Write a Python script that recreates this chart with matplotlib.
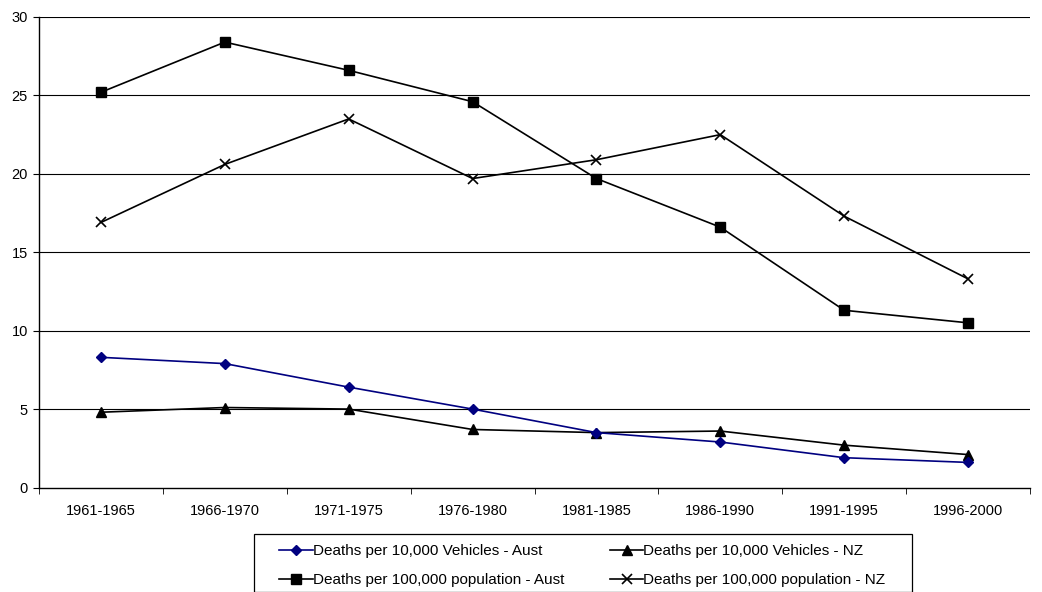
import matplotlib
matplotlib.use("Agg")
import matplotlib.pyplot as plt
from matplotlib.patches import Rectangle
import numpy as np

categories = ["1961-1965", "1966-1970", "1971-1975", "1976-1980",
              "1981-1985", "1986-1990", "1991-1995", "1996-2000"]
veh_aust = [8.3, 7.9, 6.4, 5.0, 3.5, 2.9, 1.9, 1.6]
veh_nz = [4.8, 5.1, 5.0, 3.7, 3.5, 3.6, 2.7, 2.1]
pop_aust = [25.2, 28.4, 26.6, 24.6, 19.7, 16.6, 11.3, 10.5]
pop_nz = [16.9, 20.6, 23.5, 19.7, 20.9, 22.5, 17.3, 13.3]
yticks = [0, 5, 10, 15, 20, 25, 30]

plt.rcParams['font.family'] = ['Liberation Sans', 'DejaVu Sans']

W, H = 1042, 592
fig = plt.figure(figsize=(W / 100, H / 100), dpi=100)
ax = fig.add_axes([39/W, 1 - 487.5/H, (1030 - 39)/W, (487.5 - 17)/H])

x = np.arange(len(categories))
h1, = ax.plot(x, veh_aust, color='#000080', marker='D', markersize=5.5, lw=1.2,
              label='Deaths per 10,000 Vehicles - Aust', zorder=5)
h2, = ax.plot(x, veh_nz, color='black', marker='^', markersize=7.5, lw=1.2,
              label='Deaths per 10,000 Vehicles - NZ', zorder=4)
h3, = ax.plot(x, pop_aust, color='black', marker='s', markersize=7, lw=1.2,
              label='Deaths per 100,000 population - Aust', zorder=4)
h4, = ax.plot(x, pop_nz, color='black', marker='x', markersize=7.5, mew=1.2, lw=1.2,
              label='Deaths per 100,000 population - NZ', zorder=4)

ax.set_xlim(-0.5, len(categories) - 0.5)
ax.set_ylim(0, 30)
ax.set_yticks(yticks)
ax.set_xticks(x)
ax.set_xticklabels(categories, fontsize=10.5)
ax.set_xticks(np.arange(len(categories) + 1) - 0.5, minor=True)
ax.tick_params(axis='x', which='major', length=0, pad=12)
ax.tick_params(axis='x', which='minor', length=4, color='black')
ax.tick_params(axis='y', length=4, labelsize=10.5, pad=4)
for yv in yticks[1:]:
    ax.axhline(yv, color='black', lw=0.8, zorder=1)
for s in ['top', 'right']:
    ax.spines[s].set_visible(False)
ax.spines['left'].set_linewidth(1.0)
ax.spines['bottom'].set_linewidth(1.0)

# legend frame
fig.patches.append(Rectangle((254/W, 0), (912 - 254)/W, 1 - 534/H,
                             transform=fig.transFigure, fill=False,
                             edgecolor='black', lw=0.9, zorder=0))
leg = fig.legend([h1, h3, h2, h4],
                 [h1.get_label(), h3.get_label(), h2.get_label(), h4.get_label()],
                 loc='upper left', bbox_to_anchor=(279/W, 1 - 544/H),
                 ncol=2, fontsize=11, frameon=False, borderpad=0,
                 handlelength=2.2, handletextpad=0.0,
                 columnspacing=3.0, labelspacing=0.98, borderaxespad=0)

fig.savefig("out.png", dpi=100)
